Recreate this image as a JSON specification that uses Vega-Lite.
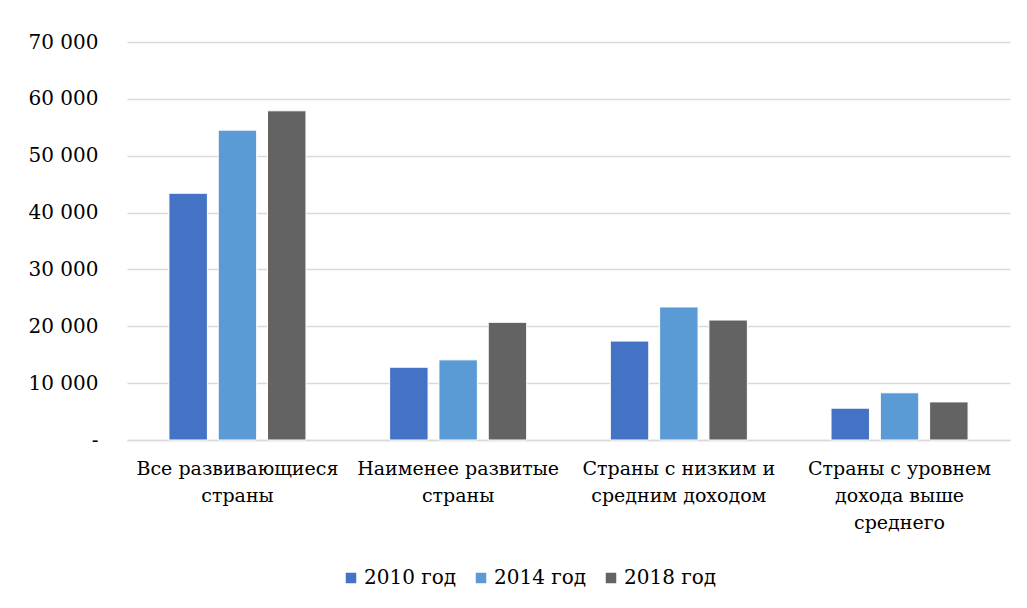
{
  "$schema": "https://vega.github.io/schema/vega-lite/v6.json",
  "width": 883,
  "height": 398,
  "autosize": {"type": "none"},
  "padding": {"left": 127, "top": 42, "right": 17, "bottom": 168},
  "background": "white",
  "config": {
    "font": "DejaVu Serif",
    "view": {"stroke": null}
  },
  "data": {
    "values": [
      {"cat": "Все развивающиеся|страны", "year": "2010 год", "value": 43400},
      {"cat": "Все развивающиеся|страны", "year": "2014 год", "value": 54500},
      {"cat": "Все развивающиеся|страны", "year": "2018 год", "value": 57900},
      {"cat": "Наименее развитые|страны", "year": "2010 год", "value": 12800},
      {"cat": "Наименее развитые|страны", "year": "2014 год", "value": 14100},
      {"cat": "Наименее развитые|страны", "year": "2018 год", "value": 20700},
      {"cat": "Страны с низким и|средним доходом", "year": "2010 год", "value": 17400},
      {"cat": "Страны с низким и|средним доходом", "year": "2014 год", "value": 23400},
      {"cat": "Страны с низким и|средним доходом", "year": "2018 год", "value": 21100},
      {"cat": "Страны с уровнем|дохода выше|среднего", "year": "2010 год", "value": 5600},
      {"cat": "Страны с уровнем|дохода выше|среднего", "year": "2014 год", "value": 8300},
      {"cat": "Страны с уровнем|дохода выше|среднего", "year": "2018 год", "value": 6700}
    ]
  },
  "mark": {"type": "bar", "stroke": "#ffffff", "strokeWidth": 1},
  "encoding": {
    "x": {
      "field": "cat",
      "type": "nominal",
      "sort": null,
      "scale": {"paddingInner": 0.379, "paddingOuter": 0.19},
      "axis": {
        "title": null,
        "labelAngle": 0,
        "labelExpr": "split(datum.label, '|')",
        "labelFont": "DejaVu Serif",
        "labelFontSize": 19,
        "labelLineHeight": 27,
        "labelLimit": 300,
        "labelColor": "#000000",
        "labelPadding": 19,
        "labelBaseline": "top",
        "ticks": false,
        "domainColor": "#d9d9d9",
        "domainWidth": 1.5
      }
    },
    "xOffset": {
      "field": "year",
      "type": "nominal",
      "scale": {"paddingInner": 0.22, "paddingOuter": 0}
    },
    "y": {
      "field": "value",
      "type": "quantitative",
      "scale": {"domain": [0, 70000], "nice": false},
      "axis": {
        "title": null,
        "values": [0, 10000, 20000, 30000, 40000, 50000, 60000, 70000],
        "labelExpr": "datum.value == 0 ? '-\u00a0\u00a0' : replace(format(datum.value, ','), ',', ' ')",
        "labelFont": "DejaVu Serif",
        "labelFontSize": 20,
        "labelColor": "#000000",
        "labelPadding": 29,
        "ticks": false,
        "domain": false,
        "gridColor": "#d9d9d9",
        "gridWidth": 1.5
      }
    },
    "color": {
      "field": "year",
      "type": "nominal",
      "scale": {"range": ["#4472c4", "#5b9bd5", "#636363"]},
      "legend": {
        "title": null,
        "orient": "none",
        "legendX": 214,
        "legendY": 526,
        "direction": "horizontal",
        "symbolType": "square",
        "symbolSize": 110,
        "symbolStrokeWidth": 0,
        "labelFont": "DejaVu Serif",
        "labelFontSize": 20,
        "labelColor": "#000000",
        "labelOffset": 3,
        "columnPadding": 14
      }
    }
  }
}
